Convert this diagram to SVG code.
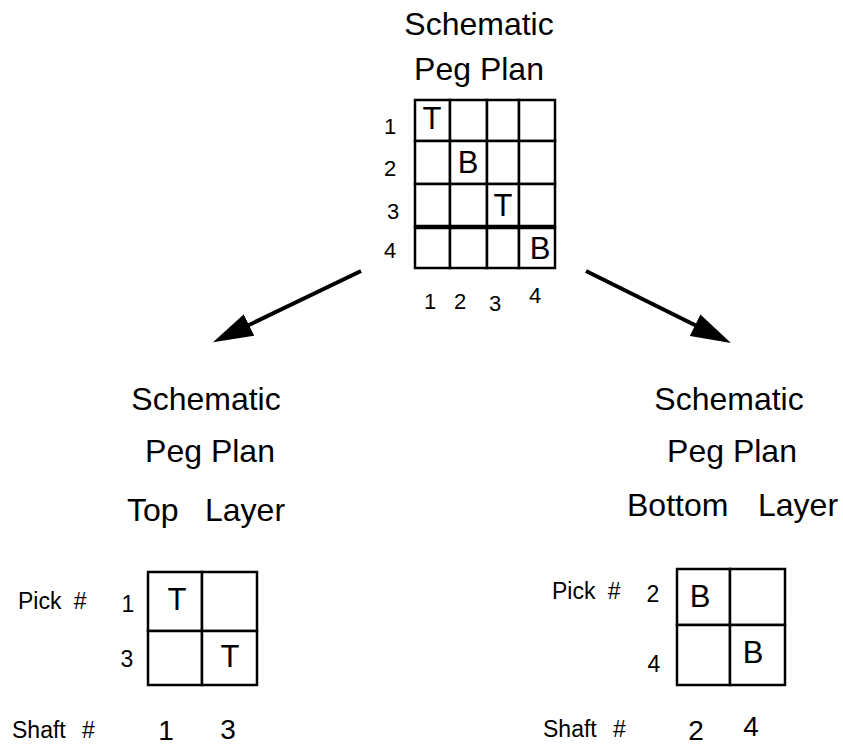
<svg xmlns="http://www.w3.org/2000/svg" width="843" height="746" viewBox="0 0 843 746">
<style>
text{font-family:"Liberation Sans",Arial,sans-serif;fill:#000}
.t{font-size:32px;text-anchor:middle}
.n{font-size:22px;text-anchor:middle}
.c{font-size:31px;text-anchor:middle}
.m{font-size:23px}
.mn{font-size:23px;text-anchor:middle}
.s{font-size:28px;text-anchor:middle}
.cell{fill:#fff;stroke:#000;stroke-width:2.5}
.conn{stroke:#000;stroke-width:4;fill:none}
</style>
<defs>
<marker id="ah" viewBox="0 0 40 24" refX="30" refY="12" markerWidth="40" markerHeight="24" markerUnits="userSpaceOnUse" orient="auto">
<path d="M0,0 L40,12 L0,24 z" fill="#000"/>
</marker>
</defs>
<rect width="843" height="746" fill="#fff"/>

<g id="top-plan">
<text class="t" x="479" y="35">Schematic</text>
<text class="t" x="479" y="80">Peg Plan</text>
<g>
<rect class="cell" x="415" y="100" width="35" height="41"/>
<rect class="cell" x="450" y="100" width="37" height="41"/>
<rect class="cell" x="487" y="100" width="32" height="41"/>
<rect class="cell" x="519" y="100" width="36" height="41"/>
<rect class="cell" x="415" y="141" width="35" height="43"/>
<rect class="cell" x="450" y="141" width="37" height="43"/>
<rect class="cell" x="487" y="141" width="32" height="43"/>
<rect class="cell" x="519" y="141" width="36" height="43"/>
<rect class="cell" x="415" y="184" width="35" height="43"/>
<rect class="cell" x="450" y="184" width="37" height="43"/>
<rect class="cell" x="487" y="184" width="32" height="43"/>
<rect class="cell" x="519" y="184" width="36" height="43"/>
<rect class="cell" x="415" y="227" width="35" height="41"/>
<rect class="cell" x="450" y="227" width="37" height="41"/>
<rect class="cell" x="487" y="227" width="32" height="41"/>
<rect class="cell" x="519" y="227" width="36" height="41"/>
<line x1="415" y1="227" x2="555" y2="227" stroke="#000" stroke-width="4.5"/>
</g>
<text class="n" x="390" y="134">1</text>
<text class="n" x="390" y="176">2</text>
<text class="n" x="393" y="219">3</text>
<text class="n" x="390" y="258">4</text>
<text class="c" x="432" y="129">T</text>
<text class="c" x="468" y="173">B</text>
<text class="c" x="503" y="216">T</text>
<text class="c" x="540" y="259">B</text>
<text class="n" x="430" y="309">1</text>
<text class="n" x="460" y="309">2</text>
<text class="n" x="495" y="311">3</text>
<text class="n" x="535" y="303">4</text>
</g>

<g id="connectors">
<line class="conn" x1="361" y1="271" x2="222" y2="338" marker-end="url(#ah)"/>
<line class="conn" x1="586" y1="271" x2="722" y2="338.5" marker-end="url(#ah)"/>
</g>

<g id="top-layer">
<text class="t" x="206" y="410">Schematic</text>
<text class="t" x="210" y="462">Peg Plan</text>
<text style="font-size:32px" y="521"><tspan x="127">Top</tspan><tspan x="205">Layer</tspan></text>
<rect class="cell" x="148" y="572" width="54" height="59"/>
<rect class="cell" x="202" y="572" width="55" height="59"/>
<rect class="cell" x="148" y="631" width="54" height="54"/>
<rect class="cell" x="202" y="631" width="55" height="54"/>
<text class="m" x="18" y="609" word-spacing="6">Pick #</text>
<text class="mn" x="128" y="612">1</text>
<text class="mn" x="127" y="667">3</text>
<text class="c" x="177" y="610">T</text>
<text class="c" x="230" y="667">T</text>
<text class="m" x="12" y="738" word-spacing="10">Shaft #</text>
<text class="s" x="166" y="740">1</text>
<text class="s" x="228" y="739">3</text>
</g>

<g id="bottom-layer">
<text class="t" x="729" y="410">Schematic</text>
<text class="t" x="732" y="462">Peg Plan</text>
<text style="font-size:32px" y="516"><tspan x="627">Bottom</tspan><tspan x="758">Layer</tspan></text>
<rect class="cell" x="677" y="569" width="53" height="56"/>
<rect class="cell" x="730" y="569" width="55" height="56"/>
<rect class="cell" x="677" y="625" width="53" height="60"/>
<rect class="cell" x="730" y="625" width="55" height="60"/>
<text class="m" x="552" y="599" word-spacing="6">Pick #</text>
<text class="mn" x="653" y="602">2</text>
<text class="mn" x="654" y="672">4</text>
<text class="c" x="700" y="607">B</text>
<text class="c" x="753" y="663">B</text>
<text class="m" x="543" y="737" word-spacing="10">Shaft #</text>
<text class="s" x="696" y="740">2</text>
<text class="s" x="751" y="736">4</text>
</g>
</svg>
